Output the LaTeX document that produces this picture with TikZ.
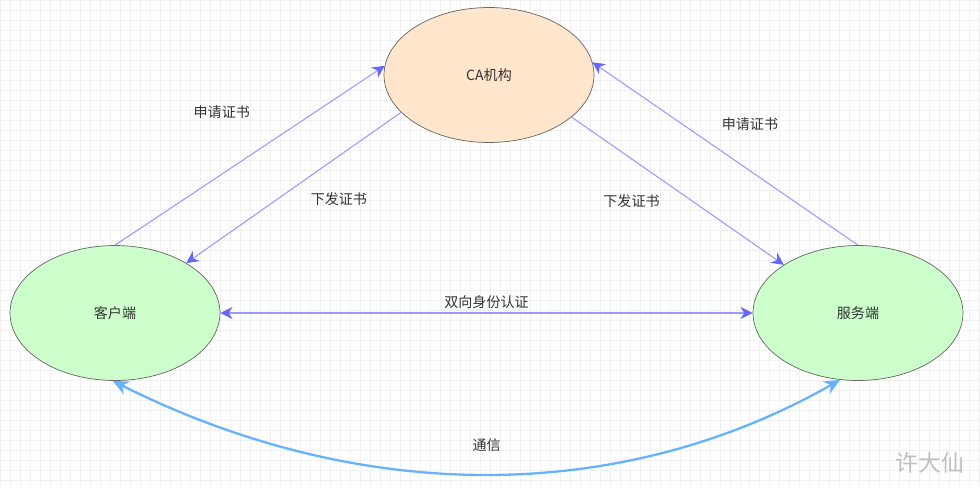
\documentclass[tikz,border=0pt]{standalone}
\usepackage{fontspec}
\setmainfont{Noto Sans CJK SC}
\usetikzlibrary{shapes.geometric,arrows.meta}
\definecolor{gridc}{HTML}{F0F0F0}
\definecolor{linec}{HTML}{9999FF}
\definecolor{headc}{HTML}{6666FF}
\definecolor{commc}{HTML}{66B2FF}
\definecolor{caf}{HTML}{FFE6CC}
\definecolor{endf}{HTML}{CCFFCC}
\tikzset{
  party/.style = {ellipse, draw=black!60, minimum width=4.2cm, minimum height=2.7cm, inner sep=0pt},
  flow/.style = {draw=linec, semithick, -{Stealth[length=7pt,width=7pt,color=headc]}},
  lbl/.style = {text=black!80, font=\fontsize{8}{10}\selectfont}
}
\begin{document}
\begin{tikzpicture}[x=0.02cm, y=-0.02cm]
\useasboundingbox (0,0) rectangle (980,487);
\draw[gridc, step=0.2cm] (0,0) grid (980,487);
\begin{scope}[every node/.style = {lbl}]
\node[party, fill=caf] (ca) at (489,75) {CA机构};
\node[party, fill=endf] (client) at (115,313) {客户端};
\node[party, fill=endf] (server) at (858,313) {服务端};
\end{scope}
\begin{scope}[every node/.style = {lbl}]
\draw[flow] (client.90) -- (ca.175) node[pos=0.6, xshift=-1.1cm, yshift=0.5cm] {申请证书};
\draw[flow] (ca.203) -- (client.35) node[pos=0.55, xshift=1.12cm, yshift=-0.08cm] {下发证书};
\draw[flow] (ca.333) -- (server.147) node[pos=0.4, xshift=-0.5cm, yshift=-0.5cm] {下发证书};
\draw[flow] (server.90) -- (ca.7) node[pos=0.55, xshift=0.76cm, yshift=0.4cm] {申请证书};
\draw[flow, {Stealth[length=7pt,width=7pt,color=headc]}-{Stealth[length=7pt,width=7pt,color=headc]}] (client.east) -- (server.west) node[midway, above, yshift=-1pt] {双向身份认证};
\draw[commc, line width=1.3pt, {Stealth[length=9pt,width=8pt]}-{Stealth[length=9pt,width=8pt]}]
  (client.268) .. controls (360,505) and (620,505) .. (server.255)
  node[pos=0.5, above=0.3cm] {通信};
\end{scope}
\node[text=black!25, font=\fontsize{13}{15}\selectfont] (mark) at (930,463) {许大仙};
\end{tikzpicture}
\end{document}
